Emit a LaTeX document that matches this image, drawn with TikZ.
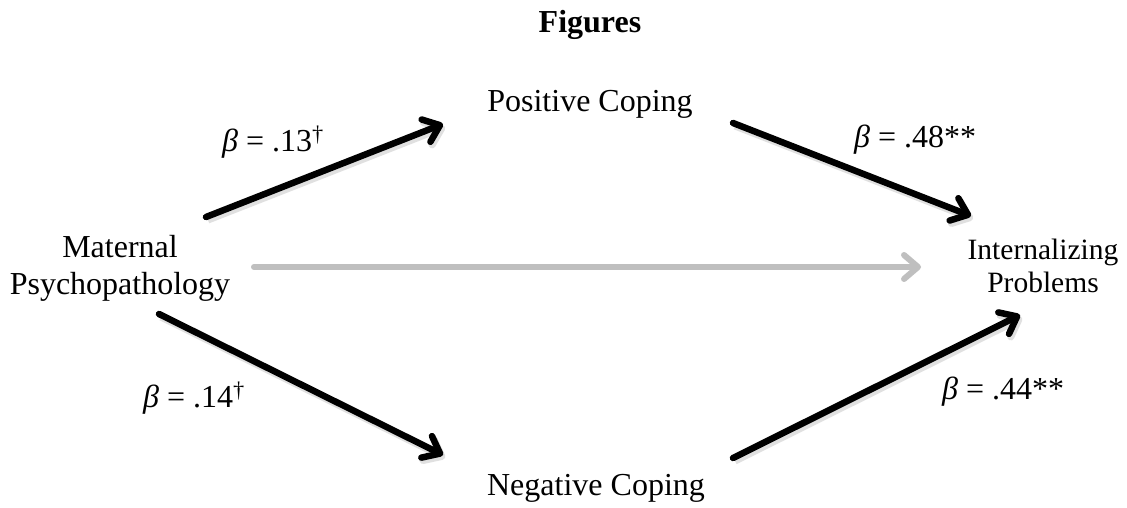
\documentclass[tikz,border=0pt]{standalone}
\usepackage{fontspec}
\setmainfont{Liberation Serif}
\usetikzlibrary{arrows.meta}
\begin{document}
\begin{tikzpicture}[x=1pt,y=-1pt,
  lbl/.style={font=\fontsize{32}{37}\selectfont, inner sep=0pt},
  lblsm/.style={font=\fontsize{29.5}{33}\selectfont, inner sep=0pt},
  path/.style={line width=6.5pt, line cap=round, draw=black,
    -{Straight Barb[length=15pt,width=24pt,round]},
    preaction={draw=black!30, opacity=0.4, line width=7pt,
      transform canvas={shift={(2pt,-3pt)}}}},
  direct/.style={line width=6pt, line cap=round, draw=black!25,
    -{Straight Barb[length=14pt,width=24pt,round]}}
]
\useasboundingbox (0,0) rectangle (1127,508);
\fill[white] (0,0) rectangle (1127,508);

\node[lbl, anchor=base] (fig) at (590,33) {\textbf{Figures}};
\node[lbl, anchor=base] (pos) at (590,112) {Positive Coping};
\node[lbl, anchor=base] (neg) at (596,495) {Negative Coping};
\node[lbl, align=center] (mat) at (120,268) {Maternal\\Psychopathology};
\node[lblsm, align=center] (int) at (1043,266) {Internalizing\\Problems};

\node[lbl, anchor=base west] (b1) at (222,151) {\textit{β} = .13\textsuperscript{†}};
\node[lbl, anchor=base west] (b2) at (854,148) {\textit{β} = .48**};
\node[lbl, anchor=base west] (b3) at (143,407) {\textit{β} = .14\textsuperscript{†}};
\node[lbl, anchor=base west] (b4) at (942,399) {\textit{β} = .44**};

\coordinate (a1s) at (206,217); \coordinate (a1e) at (443,124);
\coordinate (a2s) at (733,123); \coordinate (a2e) at (971,216);
\coordinate (a3s) at (159,314); \coordinate (a3e) at (443,455);
\coordinate (a4s) at (733,458); \coordinate (a4e) at (1020,315);
\coordinate (a5s) at (254,267); \coordinate (a5e) at (921,267);

\draw[direct] (a5s) -- (a5e);
\draw[path] (a1s) -- (a1e);
\draw[path] (a2s) -- (a2e);
\draw[path] (a3s) -- (a3e);
\draw[path] (a4s) -- (a4e);
\end{tikzpicture}
\end{document}
